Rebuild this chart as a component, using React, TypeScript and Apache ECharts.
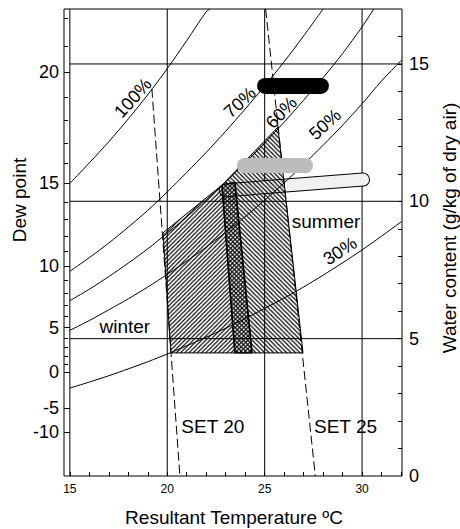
import React, { useEffect, useRef } from 'react';
import * as echarts from 'echarts';

const FONT = "'Liberation Sans', Arial, Helvetica, sans-serif";

// ---- axes ----
const xMin = 14.7;
const xMax = 32.05;
const yMax = 17;

const tempLabels = [15, 20, 25, 30];
const tempTicks = [15, 16, 17, 18, 19, 20, 21, 22, 23, 24, 25, 26, 27, 28, 29, 30, 31, 32];
const tempGrid = [15, 20, 25, 30];

const waterLabels = [0, 5, 10, 15];
const waterTicks = [1, 2, 3, 4, 5, 6, 7, 8, 9, 10, 11, 12, 13, 14, 15, 16];
const waterGrid = [5, 10, 15];

// dew point labels and the water content (g/kg) where each sits
const dewLabels = [-10, -5, 0, 5, 10, 15, 20];
const dewLabelW = [1.6, 2.48, 3.77, 5.4, 7.63, 10.65, 14.7];
const dewMinorW = [4.06, 4.36, 4.69, 5.03, 5.8, 6.21, 6.66, 7.13, 8.17, 8.73, 9.33, 9.97, 11.37, 12.13, 12.94, 13.79, 15.66, 16.67];

// ---- relative humidity curves [temperature, water content] ----
const rh100 = [[15, 10.65], [16, 11.4], [17, 12.17], [18, 13.0], [19, 13.88], [20, 14.83], [21, 15.85], [22, 16.9], [22.2, 17.0]];
const rh70 = [[15, 7.45], [16, 7.95], [17, 8.48], [18, 9.06], [19, 9.67], [20, 10.34], [21, 11.05], [22, 11.78], [23, 12.55], [24, 13.36], [25, 14.2], [26, 15.08], [27, 16.02], [28, 17.0]];
const rh60 = [[15, 6.38], [16, 6.8], [17, 7.26], [18, 7.75], [19, 8.27], [20, 8.84], [21, 9.43], [22, 10.06], [23, 10.71], [24, 11.4], [25, 12.12], [26, 12.88], [27, 13.68], [28, 14.5], [29, 15.38], [30, 16.35], [30.6, 17.0]];
const rh50 = [[15, 5.3], [16, 5.66], [17, 6.05], [18, 6.45], [19, 6.88], [20, 7.34], [21, 7.82], [22, 8.33], [23, 8.87], [24, 9.44], [25, 10.04], [26, 10.67], [27, 11.34], [28, 12.04], [29, 12.77], [30, 13.55], [31, 14.38], [32, 15.12], [32.05, 15.15]];
const rh30 = [[15, 3.2], [16, 3.42], [17, 3.65], [18, 3.9], [19, 4.16], [20, 4.44], [21, 4.74], [22, 5.05], [23, 5.38], [24, 5.73], [25, 6.1], [26, 6.48], [27, 6.88], [28, 7.31], [29, 7.76], [30, 8.23], [31, 8.73], [32, 9.25], [32.05, 9.27]];

// ---- SET lines ----
const set20 = [[19.21, 14.1], [20.65, 0]];
const set25 = [[25.05, 17], [27.6, 0]];

// ---- comfort zones ----
const winterZone = [[19.78, 8.85], [22.81, 10.59], [23.47, 10.7], [24.35, 4.48], [20.19, 4.48]];
const summerZone = [[22.81, 10.59], [25.68, 12.7], [26.97, 4.48], [23.47, 4.48]];
const overlapLeft = [[22.81, 10.59], [23.47, 4.48]];
const overlapRight = [[23.47, 10.7], [24.35, 4.48]];

// ---- bars ----
const blackBar = [[25.02, 14.2], [27.89, 14.2]];
const grayBar = [[23.96, 11.3], [27.1, 11.3]];
const whiteBar = [[23.0, 10.4], [30.05, 10.79]];

// ---- labels ----
const curveLabels = ['100%', '70%', '60%', '50%', '30%'];
const curveLabelPos = [[18.24, 13.76], [23.73, 13.6], [25.86, 13.23], [28.1, 12.8], [28.87, 8.19]];
const curveLabelAngle = [48, 43, 46, 42, 33];
const noteLabels = ['summer', 'winter', 'SET 20', 'SET 25'];
const notePos = [[28.15, 9.25], [17.82, 5.45], [22.34, 1.8], [29.15, 1.8]];

function hatch(dir: number, s: number) {
  const d = dir > 0
    ? `M0,${s} L${s},0 M${-s / 2},${s / 2} L${s / 2},${-s / 2} M${s / 2},${s * 1.5} L${s * 1.5},${s / 2}`
    : `M0,0 L${s},${s} M${-s / 2},${s / 2} L${s / 2},${s * 1.5} M${s / 2},${-s / 2} L${s * 1.5},${s / 2}`;
  const svg = `<svg xmlns="http://www.w3.org/2000/svg" width="${s}" height="${s}" viewBox="0 0 ${s} ${s}"><path d="${d}" stroke="#000" stroke-width="1.15" fill="none"/></svg>`;
  return {
    image: 'data:image/svg+xml;charset=utf-8,' + encodeURIComponent(svg),
    repeat: 'repeat',
    imageWidth: s,
    imageHeight: s,
  };
}

function seg(data: number[][], opts: any = {}) {
  return {
    type: 'line',
    data,
    symbol: 'none',
    silent: true,
    z: opts.z ?? 2,
    smooth: opts.smooth ?? false,
    lineStyle: {
      color: opts.color ?? '#000',
      width: opts.width ?? 1,
      type: opts.type ?? 'solid',
      cap: opts.cap ?? 'butt',
    },
  };
}

function polygon(points: number[][], fill: any, z: number) {
  return {
    type: 'custom',
    silent: true,
    z,
    data: [[20, 5]],
    renderItem: (_p: any, api: any) => ({
      type: 'polygon',
      shape: { points: points.map((p) => api.coord(p)) },
      style: { fill, stroke: '#000', lineWidth: 1 },
    }),
  };
}

const labelStyle = (size: number) => ({
  show: true,
  position: 'inside',
  fontSize: size,
  fontFamily: FONT,
  color: '#000',
  opacity: 1,
  textBorderWidth: 0,
  textBorderColor: 'transparent',
  textShadowBlur: 0,
});

export default function App() {
  const ref = useRef<HTMLDivElement>(null);
  useEffect(() => {
    document.body.style.margin = '0';
    const chart = echarts.init(ref.current!, undefined, { renderer: 'svg' });
    const series: any[] = [];
    tempGrid.forEach((t) => series.push(seg([[t, 0], [t, yMax]], { z: 1 })));
    waterGrid.forEach((w) => series.push(seg([[15, w], [xMax, w]], { z: 1 })));
    // white stippled bar
    series.push(seg(whiteBar, { width: 14, cap: 'round', z: 2 }));
    series.push(seg(whiteBar, { width: 12, cap: 'round', color: '#f1f1f1', z: 2 }));
    // zones
    series.push(polygon(winterZone, hatch(1, 4.2), 3));
    series.push(polygon(summerZone, hatch(-1, 4.4), 3));
    series.push(seg(overlapLeft, { width: 1.6, z: 4 }));
    series.push(seg(overlapRight, { width: 1.6, z: 4 }));
    // RH curves
    [rh100, rh70, rh60, rh50, rh30].forEach((c) => series.push(seg(c, { smooth: 0.3, z: 5 })));
    // SET lines
    series.push(seg(set20, { type: [9, 4], z: 5 }));
    series.push(seg(set25, { type: [9, 4], z: 5 }));
    // bars
    series.push(seg(grayBar, { width: 15, cap: 'round', color: '#bcbcbc', z: 6 }));
    series.push(seg(blackBar, { width: 16, cap: 'round', color: '#000', z: 7 }));
    // labels
    series.push({
      type: 'scatter',
      silent: true,
      z: 8,
      symbol: 'circle',
      symbolSize: 1,
      itemStyle: { color: '#fff', opacity: 0 },
      labelLayout: { hideOverlap: false },
      data: [
        ...curveLabels.map((t, i) => ({
          value: curveLabelPos[i],
          label: { ...labelStyle(18), formatter: t, rotate: curveLabelAngle[i] },
        })),
        ...noteLabels.map((t, i) => ({
          value: notePos[i],
          label: { ...labelStyle(19), formatter: t },
        })),
      ],
    });

    chart.setOption({
      animation: false,
      grid: { left: 64, right: 58, top: 9, bottom: 53, show: true, borderColor: '#000', borderWidth: 1, backgroundColor: 'transparent' },
      xAxis: {
        type: 'value',
        min: xMin,
        max: xMax,
        axisLine: { show: false, onZero: false },
        splitLine: { show: false },
        axisTick: { show: true, inside: true, length: 4, customValues: tempTicks, lineStyle: { color: '#000' } },
        axisLabel: { customValues: tempLabels, fontSize: 12, fontFamily: FONT, color: '#000', margin: 7 },
      },
      yAxis: [
        {
          type: 'value', min: 0, max: yMax, position: 'left',
          axisLine: { show: false, onZero: false }, splitLine: { show: false },
          axisTick: { show: true, inside: true, length: 6, customValues: dewLabelW, lineStyle: { color: '#000' } },
          axisLabel: {
            customValues: dewLabelW, fontSize: 18, fontFamily: FONT, color: '#000', margin: 5,
            formatter: (v: number) => {
              const i = dewLabelW.findIndex((w) => Math.abs(w - v) < 1e-6);
              return i >= 0 ? String(dewLabels[i]) : '';
            },
          },
        },
        {
          type: 'value', min: 0, max: yMax, position: 'left',
          axisLine: { show: false, onZero: false }, splitLine: { show: false },
          axisTick: { show: true, inside: true, length: 4, customValues: dewMinorW, lineStyle: { color: '#000' } },
          axisLabel: { show: false },
        },
        {
          type: 'value', min: 0, max: yMax, position: 'right',
          axisLine: { show: false, onZero: false }, splitLine: { show: false },
          axisTick: { show: true, inside: true, length: 4, customValues: waterTicks, lineStyle: { color: '#000' } },
          axisLabel: { customValues: waterLabels, fontSize: 18, fontFamily: FONT, color: '#000', margin: 7 },
        },
      ],
      graphic: [
        {
          type: 'text', x: 234, y: 517,
          style: { text: 'Resultant Temperature ºC', font: `19px ${FONT}`, fill: '#000', textAlign: 'center', textVerticalAlign: 'middle' },
        },
        {
          type: 'text', x: 19, y: 200, rotation: Math.PI / 2,
          style: { text: 'Dew point', font: `19px ${FONT}`, fill: '#000', textAlign: 'center', textVerticalAlign: 'middle' },
        },
        {
          type: 'text', x: 449, y: 228, rotation: Math.PI / 2,
          style: { text: 'Water content (g/kg of dry air)', font: `19px ${FONT}`, fill: '#000', textAlign: 'center', textVerticalAlign: 'middle' },
        },
      ],
      series,
    });
    return () => chart.dispose();
  }, []);
  return <div ref={ref} style={{ position: 'absolute', left: 0, top: 0, width: 460, height: 529 }} />;
}
